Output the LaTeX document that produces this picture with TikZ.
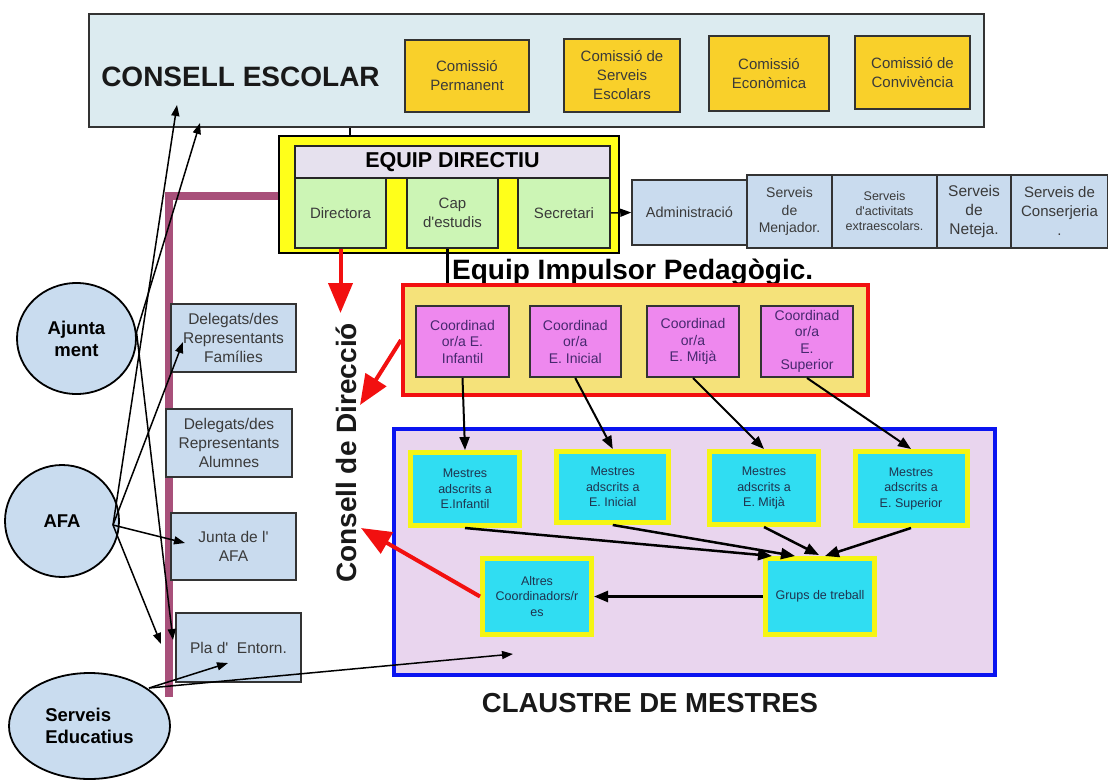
\documentclass[tikz,border=0pt]{standalone}
\usepackage{fontspec}
\setmainfont{Liberation Sans}
\usetikzlibrary{arrows.meta,calc,shapes.geometric}
\definecolor{cebg}{HTML}{DCEBF0}
\definecolor{comy}{HTML}{F9D02A}
\definecolor{eqy}{HTML}{FFFF1A}
\definecolor{hdrc}{HTML}{E6E1EE}
\definecolor{grn}{HTML}{CCF5B5}
\definecolor{lb}{HTML}{C9DBEE}
\definecolor{tanc}{HTML}{F5E27A}
\definecolor{vio}{HTML}{EE88EE}
\definecolor{lav}{HTML}{E9D5EE}
\definecolor{cya}{HTML}{30DDF2}
\definecolor{mauve}{HTML}{A8507A}
\definecolor{circc}{HTML}{C9DCEF}
\definecolor{myel}{HTML}{F5F514}
\definecolor{redc}{HTML}{F21010}
\definecolor{bluec}{HTML}{0A14F0}
\definecolor{dtxt}{HTML}{3A3A3A}
\definecolor{ptxt}{HTML}{46286E}
\definecolor{ntxt}{HTML}{1F3450}
\begin{document}
\begin{tikzpicture}[x=1pt,y=-1pt,
 base/.style={inner sep=0pt, align=center, font=\fontsize{15}{19}\selectfont},
 comm/.style={base, draw=black!80, line width=1.8pt, fill=comy, text=dtxt},
 grbox/.style={base, draw=black!85, line width=1.5pt, fill=grn, text=dtxt},
 rbox/.style={base, draw=black!80, line width=1.5pt, fill=lb, text=dtxt},
 coordbox/.style={base, draw=black!80, line width=2pt, fill=vio, text=ptxt, font=\fontsize{14}{16.5}\selectfont},
 mest/.style={base, draw=myel, line width=5pt, fill=cya, text=ntxt, font=\fontsize{12.5}{15.5}\selectfont},
 lbox/.style={base, draw=black!80, line width=1.8pt, fill=lb, text=dtxt, font=\fontsize{15.5}{19}\selectfont},
 circ/.style={ellipse, draw=black, line width=1.8pt, fill=circc, inner sep=0pt, align=center, font=\bfseries\fontsize{18.5}{22}\selectfont},
 arr/.style={-{Triangle[width=8pt,length=11pt]}, line width=1.5pt},
 arrb/.style={-{Triangle[width=10pt,length=13pt]}, line width=2pt},
 arrc/.style={-{Triangle[width=11pt,length=14pt]}, line width=2.5pt},
 redarr/.style={-{Triangle[width=24pt,length=30pt]}, draw=redc, line width=4pt}
]
\useasboundingbox (0,0) rectangle (1108,782);

% Consell Escolar
\node[draw=black!80, line width=2pt, fill=cebg, minimum width=895pt, minimum height=113pt, inner sep=0pt] (consell) at (536.5,70.5) {};
\node[font=\bfseries\fontsize{28}{30}\selectfont, text=black!90, inner sep=0pt] (cetxt) at (240.5,77) {CONSELL ESCOLAR};
\node[comm, minimum width=124pt, minimum height=72pt] (perm) at (467,76) {Comissió\\Permanent};
\node[comm, minimum width=116pt, minimum height=73pt] (serv) at (622,75.5) {Comissió de\\Serveis\\Escolars};
\node[comm, minimum width=120pt, minimum height=75pt] (econ) at (769,73.5) {Comissió\\Econòmica};
\node[comm, minimum width=115pt, minimum height=73pt] (conv) at (912.5,72.5) {Comissió de\\Convivència};

% Equip directiu
\node[draw=black, line width=2pt, fill=eqy, minimum width=340pt, minimum height=117pt, inner sep=0pt] (equip) at (449,194.5) {};
\node[draw=black!85, line width=1.5pt, fill=hdrc, minimum width=315pt, minimum height=32pt, inner sep=0pt, font=\bfseries\fontsize{21.5}{24}\selectfont] (hdr) at (452.5,162) {EQUIP DIRECTIU};
\node[grbox, minimum width=91pt, minimum height=70pt] (dir) at (340.5,213) {Directora};
\node[grbox, minimum width=91pt, minimum height=70pt] (cap) at (452.5,213) {Cap\\d\textquotesingle estudis};
\node[grbox, minimum width=92pt, minimum height=70pt] (secr) at (564,213) {Secretari};

% purple bar
\coordinate (pbTop) at (169,196);
\coordinate (pbBot) at (169,697);
\draw[mauve, line width=8pt] (equip.west |- pbTop) -- (pbTop) -- (pbBot);

% right row
\node[rbox, minimum width=115pt, minimum height=65pt, font=\fontsize{14.5}{18}\selectfont] (admin) at (689.5,212.5) {Administració};
\node[rbox, minimum width=85pt, minimum height=73pt, font=\fontsize{14}{17.5}\selectfont] (menj) at (789.5,211.5) {Serveis\\de\\Menjador.};
\node[rbox, minimum width=105pt, minimum height=73pt, font=\fontsize{12.5}{15}\selectfont] (activ) at (884.5,211.5) {Serveis\\d\textquotesingle activitats\\extraescolars.};
\node[rbox, minimum width=74pt, minimum height=73pt, font=\fontsize{15.5}{19}\selectfont] (netej) at (974,211.5) {Serveis\\de\\Neteja.};
\node[rbox, minimum width=97pt, minimum height=73pt, font=\fontsize{15}{19}\selectfont] (consj) at (1059.5,211.5) {Serveis de\\Conserjeria\\.};

% Equip impulsor
\node[anchor=base west, inner sep=0pt, font=\bfseries\fontsize{28}{30}\selectfont] (eiptxt) at (452,279) {Equip Impulsor Pedagògic.};
\node[draw=redc, line width=4pt, fill=tanc, minimum width=465pt, minimum height=110pt, inner sep=0pt] (red) at (635.5,340) {};
\node[coordbox, minimum width=93pt, minimum height=71pt] (c1) at (462.5,341.5) {Coordinad\\or/a E.\\Infantil};
\node[coordbox, minimum width=91.5pt, minimum height=71pt] (c2) at (575.25,341.5) {Coordinad\\or/a\\E. Inicial};
\node[coordbox, minimum width=92pt, minimum height=71pt] (c3) at (693,341.5) {Coordinad\\or/a\\E. Mitjà};
\node[coordbox, minimum width=92.5pt, minimum height=71pt] (c4) at (807,341.5) {Coordinad\\or/a\\E.\\Superior};

% Claustre
\node[draw=bluec, line width=4pt, fill=lav, minimum width=601pt, minimum height=246pt, inner sep=0pt] (claustre) at (694.5,552) {};
\node[mest, minimum width=109pt, minimum height=73pt] (m1) at (465,489) {Mestres\\adscrits a\\E.Infantil};
\node[mest, minimum width=112pt, minimum height=71pt] (m2) at (612.75,487) {Mestres\\adscrits a\\E. Inicial};
\node[mest, minimum width=109pt, minimum height=73pt] (m3) at (764,488) {Mestres\\adscrits a\\E. Mitjà};
\node[mest, minimum width=112pt, minimum height=74pt] (m4) at (911,488.5) {Mestres\\adscrits a\\E. Superior};
\node[mest, minimum width=109pt, minimum height=76pt] (altres) at (537,596.5) {Altres\\Coordinadors/r\\es};
\node[mest, minimum width=109pt, minimum height=76pt] (grups) at (820,596.5) {Grups de treball};
\node[font=\bfseries\fontsize{27.5}{30}\selectfont, inner sep=0pt, text=black!90] (cltxt) at (650,703) {CLAUSTRE DE MESTRES};

% Consell de direccio
\node[rotate=90, font=\bfseries\fontsize{28}{30}\selectfont, inner sep=0pt, text=black!90] (cdtxt) at (346,453) {Consell de Direcció};

% left side
\node[circ, minimum width=119pt, minimum height=111pt] (ajunt) at (76.5,338.5) {Ajunta\\ment};
\node[circ, minimum width=114pt, minimum height=112pt] (afa) at (62,521) {AFA};
\node[circ, minimum width=161pt, minimum height=106pt, align=left] (served) at (89.5,726) {Serveis\\Educatius};
\node[lbox, minimum width=125pt, minimum height=68pt] (fam) at (233.5,338) {Delegats/des\\Representants\\Famílies};
\node[lbox, minimum width=126pt, minimum height=68pt] (alum) at (229,443) {Delegats/des\\Representants\\Alumnes};
\node[lbox, minimum width=125pt, minimum height=67pt] (junta) at (233.5,546.5) {Junta de l\textquotesingle\\AFA};
\node[lbox, minimum width=125pt, minimum height=69pt] (pla) at (238.5,647.5) {Pla d\textquotesingle\ \ Entorn.};

% connectors in equip
\coordinate (celn) at (350,0);
\draw[line width=2pt] (consell.south -| celn) -- (equip.north -| celn);
\coordinate (impln) at (447,0);
\draw[line width=3pt] (cap.south -| impln) -- (red.north -| impln);
\draw[arr] (secr.east) -- (admin.west);

% coordinators to mestres
\draw[arrb] (c1.south) -- (m1.north);
\draw[arrb] (c2.south) -- (m2.north);
\draw[arrb] (c3.south) -- (m3.north);
\draw[arrb] (c4.south) -- (m4.north);

% mestres to grups
\coordinate (g1) at (772,556);
\coordinate (g2) at (795,556);
\coordinate (g3) at (819,555);
\coordinate (g4) at (825,556);
\draw[arrc] (m1.south) -- (g1);
\draw[arrc] (m2.south) -- (g2);
\draw[arrc] (m3.south) -- (g3);
\draw[arrc] (m4.south) -- (g4);
\draw[arrc] (grups.west) -- (altres.east);

% left connectors
\coordinate (ce1) at (177,105);
\coordinate (ce2) at (200,123);
\coordinate (afaO) at ($(afa.center)+(51,4)$);
\coordinate (ajO) at (ajunt.6);
\coordinate (famT) at (183,342);
\coordinate (juntaT) at (185,543);
\coordinate (plaT1) at (161,644);
\coordinate (plaT2) at (173,640);
\coordinate (seO) at (149,688);
\coordinate (plaT3) at (228,663);
\coordinate (clT) at (513,654);
\draw[arr] (afaO) -- (ce1);
\draw[arr] (ajO) -- (ce2);
\draw[arr] (ajO) -- (plaT2);
\draw[arr] (afaO) -- (famT);
\draw[arr] (afaO) -- (juntaT);
\draw[arr] (afaO) -- (plaT1);
\draw[arr] (seO) -- (plaT3);
\draw[arr] (seO) -- (clT);

% red arrows
\coordinate (rt1) at (340.5,313);
\coordinate (rt2) at (360,405);
\coordinate (rt3) at (361,528);
\draw[redarr] (dir.south) -- (rt1);
\draw[redarr] (red.west) -- (rt2);
\draw[redarr] (altres.west) -- (rt3);
\end{tikzpicture}
\end{document}
